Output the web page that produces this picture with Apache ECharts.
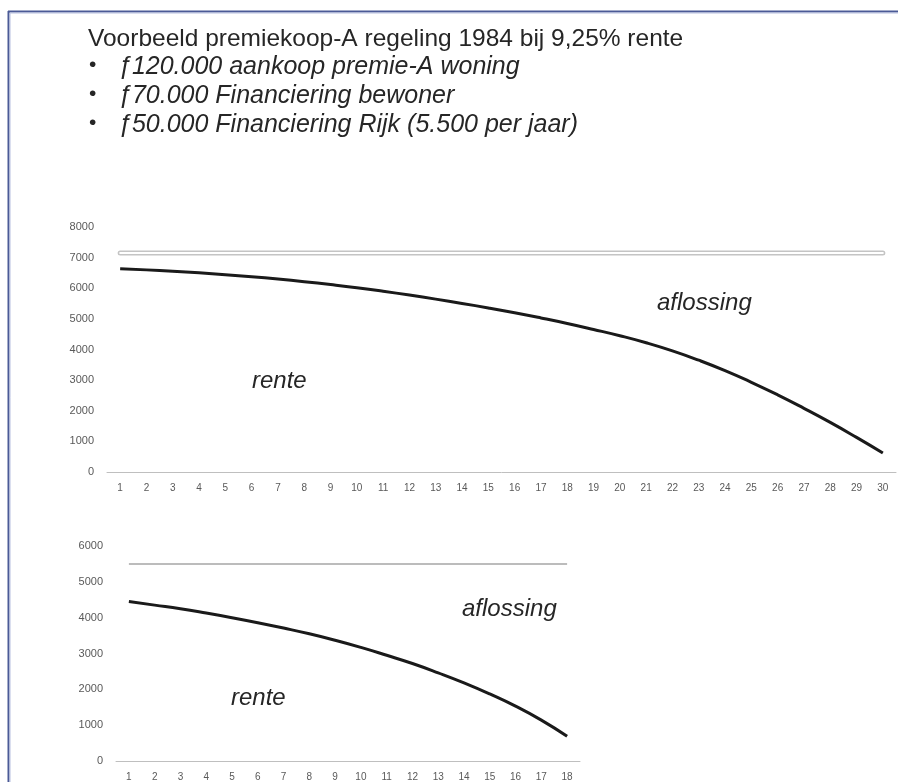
<!DOCTYPE html>
<html>
<head>
<meta charset="utf-8">
<script src="https://cdn.jsdelivr.net/npm/echarts@6/dist/echarts.min.js"></script>
<style>
html,body{margin:0;padding:0;background:#fff;}
#chart{width:898px;height:782px;}
</style>
</head>
<body>
<div id="chart"></div>
<script>
// ---- Data ----
const titleText = "Voorbeeld premiekoop-A regeling 1984 bij 9,25% rente";
const bulletTexts = [
  "\u0192120.000 aankoop premie-A woning",
  "\u019270.000 Financiering bewoner",
  "\u019250.000 Financiering Rijk (5.500 per jaar)"
];
const yearsTop = ["1","2","3","4","5","6","7","8","9","10","11","12","13","14","15","16","17","18","19","20","21","22","23","24","25","26","27","28","29","30"];
const totalTop = [7150,7150,7150,7150,7150,7150,7150,7150,7150,7150,7150,7150,7150,7150,7150,7150,7150,7150,7150,7150,7150,7150,7150,7150,7150,7150,7150,7150,7150,7150];
const renteTop = [6640,6600,6555,6503,6443,6375,6300,6215,6120,6017,5902,5777,5645,5505,5358,5200,5030,4850,4655,4450,4220,3955,3650,3310,2930,2520,2080,1620,1130,620];
const yearsBottom = ["1","2","3","4","5","6","7","8","9","10","11","12","13","14","15","16","17","18"];
const totalBottom = [5500,5500,5500,5500,5500,5500,5500,5500,5500,5500,5500,5500,5500,5500,5500,5500,5500,5500];
const renteBottom = [4450,4350,4250,4130,4000,3860,3710,3550,3370,3170,2950,2720,2460,2180,1870,1530,1140,690];
const areaLabels = ["rente","aflossing"];

// ---- Chart ----
const chart = echarts.init(document.getElementById('chart'), null, {renderer:'canvas'});
const axisLabelColor = '#595959';
const textFont = '"Liberation Sans", Arial, sans-serif';
const textColor = '#262626';

function xAxisCfg(idx, data){
  return {
    type:'category', gridIndex:idx, data:data, boundaryGap:true,
    axisLine:{show:true, lineStyle:{color:'#bfbfbf', width:1}},
    axisTick:{show:false},
    axisLabel:{color:axisLabelColor, fontSize:10, margin:11, fontFamily:textFont, interval:0}
  };
}
function yAxisCfg(idx, max){
  return {
    type:'value', gridIndex:idx, min:0, max:max, interval:1000,
    axisLine:{show:false}, axisTick:{show:false}, splitLine:{show:false},
    axisLabel:{color:axisLabelColor, fontSize:11, margin:13, fontFamily:textFont,
      formatter:function(v){ return String(v); }}
  };
}

const option = {
  animation:false,
  backgroundColor:'#ffffff',
  grid:[
    {left:107, right:2, top:227, bottom:310},
    {left:116, right:318, top:546, bottom:19}
  ],
  xAxis:[xAxisCfg(0, yearsTop), xAxisCfg(1, yearsBottom)],
  yAxis:[yAxisCfg(0, 8000), yAxisCfg(1, 6000)],
  series:[
    {type:'line', xAxisIndex:0, yAxisIndex:0, data:totalTop, symbol:'none', z:2,
     lineStyle:{color:'#c4c4c4', width:5, cap:'round'}},
    {type:'line', xAxisIndex:0, yAxisIndex:0, data:totalTop, symbol:'none', z:3,
     lineStyle:{color:'#ffffff', width:2, cap:'round'}},
    {type:'line', xAxisIndex:0, yAxisIndex:0, data:renteTop, symbol:'none', smooth:true, z:4,
     lineStyle:{color:'#1a1a1a', width:3}},
    {type:'line', xAxisIndex:1, yAxisIndex:1, data:totalBottom, symbol:'none', z:2,
     lineStyle:{color:'#a6a6a6', width:1.5}},
    {type:'line', xAxisIndex:1, yAxisIndex:1, data:renteBottom, symbol:'none', smooth:true, z:4,
     lineStyle:{color:'#1a1a1a', width:3}}
  ],
  graphic:[
    // frame
    {type:'line', shape:{x1:8, y1:11.5, x2:898, y2:11.5}, style:{stroke:'#4b5a96', lineWidth:2}},
    {type:'line', shape:{x1:10, y1:13, x2:898, y2:13}, style:{stroke:'#b8c0e0', lineWidth:1}},
    {type:'line', shape:{x1:8.5, y1:11, x2:8.5, y2:782}, style:{stroke:'#4b5a96', lineWidth:2}},
    {type:'line', shape:{x1:10, y1:13, x2:10, y2:782}, style:{stroke:'#b8c0e0', lineWidth:1}},
    // title and bullets
    {type:'text', left:88, top:27, style:{text:titleText, font:'24.5px ' + textFont, fill:textColor}},
    {type:'text', left:89, top:55, style:{text:'\u2022', font:'21px ' + textFont, fill:textColor}},
    {type:'text', left:89, top:84, style:{text:'\u2022', font:'21px ' + textFont, fill:textColor}},
    {type:'text', left:89, top:113, style:{text:'\u2022', font:'21px ' + textFont, fill:textColor}},
    {type:'text', left:118, top:55, style:{text:bulletTexts[0], font:'italic 25px ' + textFont, fill:textColor}},
    {type:'text', left:118, top:84, style:{text:bulletTexts[1], font:'italic 25px ' + textFont, fill:textColor}},
    {type:'text', left:118, top:113, style:{text:bulletTexts[2], font:'italic 25px ' + textFont, fill:textColor}},
    // area labels
    {type:'text', left:252, top:369, style:{text:areaLabels[0], font:'italic 24px ' + textFont, fill:textColor}},
    {type:'text', left:657, top:291, style:{text:areaLabels[1], font:'italic 24px ' + textFont, fill:textColor}},
    {type:'text', left:231, top:686, style:{text:areaLabels[0], font:'italic 24px ' + textFont, fill:textColor}},
    {type:'text', left:462, top:597, style:{text:areaLabels[1], font:'italic 24px ' + textFont, fill:textColor}}
  ]
};
chart.setOption(option);
</script>
</body>
</html>
